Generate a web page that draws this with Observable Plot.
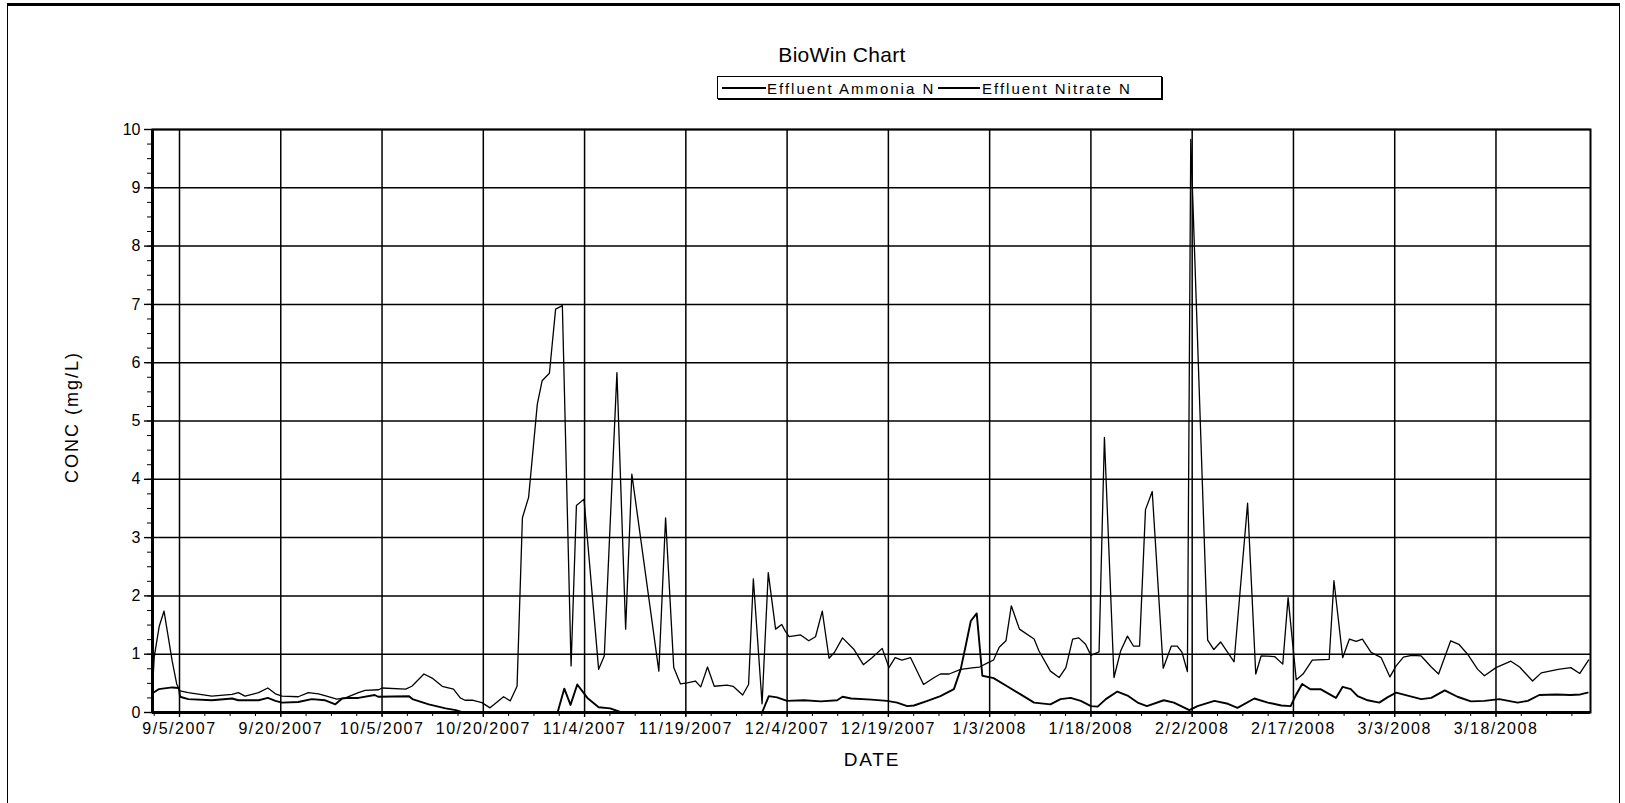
<!DOCTYPE html>
<html><head><meta charset="utf-8">
<script src="https://cdn.jsdelivr.net/npm/d3@7"></script>
<script src="https://cdn.jsdelivr.net/npm/@observablehq/plot@0.6"></script>
<style>
body{margin:0;background:#fff;}
#wrap{position:relative;width:1625px;height:803px;overflow:hidden;font-family:"Liberation Sans",Arial,sans-serif;color:#000;background:#fff;}
#outer{position:absolute;left:7px;top:3px;width:1611px;height:830px;border-top:3px solid #000;border-left:1px solid #000;border-right:1px solid #000;}
#title{position:absolute;left:692px;width:300px;top:44px;text-align:center;font-size:21px;line-height:21px;letter-spacing:0.3px;}
#legend{position:absolute;left:717px;top:76px;width:443px;height:21px;border:1px solid #000;box-shadow:1px 1px 0 #000;font-size:15px;letter-spacing:2px;}
#legend .sw{position:absolute;top:10px;height:0;border-top:2px solid #000;}
#legend .tx{position:absolute;top:4px;line-height:15px;white-space:nowrap;}
#ytitle{position:absolute;left:72px;top:417px;transform:translate(-50%,-50%) rotate(-90deg);font-size:18px;letter-spacing:2px;white-space:nowrap;}
#xtitle{position:absolute;left:872px;top:750px;transform:translateX(-50%);font-size:19px;letter-spacing:1.8px;line-height:19px;}
#chart{position:absolute;left:0;top:0;}
#chart g[aria-label="x-axis tick label"] text{letter-spacing:1.5px;}
</style></head>
<body>
<div id="wrap">
  <div id="outer"></div>
  <div id="chart"></div>
  <div id="title"></div>
  <div id="legend"></div>
  <div id="ytitle"></div>
  <div id="xtitle"></div>
</div>
<script>
const chartTitle = "BioWin Chart";
const seriesNames = ["Effluent Ammonia N", "Effluent Nitrate N"];
const xTitle = "DATE";
const yTitle = "CONC (mg/L)";

const xDomain = ["2007-09-01T00", "2008-04-01T00"];
const yDomain = [0, 10];
const yTicks = [0, 1, 2, 3, 4, 5, 6, 7, 8, 9, 10];
const xTickDates = ["2007-09-05T00","2007-09-20T00","2007-10-05T00","2007-10-20T00","2007-11-04T00","2007-11-19T00","2007-12-04T00","2007-12-19T00","2008-01-03T00","2008-01-18T00","2008-02-02T00","2008-02-17T00","2008-03-03T00","2008-03-18T00"];
const xTickLabels = ["9/5/2007","9/20/2007","10/5/2007","10/20/2007","11/4/2007","11/19/2007","12/4/2007","12/19/2007","1/3/2008","1/18/2008","2/2/2008","2/17/2008","3/3/2008","3/18/2008"];

const ammonia = [
["2007-09-01T00",0.40],["2007-09-01T06",0.95],["2007-09-02T00",1.48],["2007-09-02T17",1.74],["2007-09-03T22",0.88],
["2007-09-04T14",0.49],["2007-09-05T02",0.37],["2007-09-06T07",0.34],["2007-09-09T19",0.28],["2007-09-12T19",0.31],
["2007-09-13T17",0.34],["2007-09-14T17",0.28],["2007-09-16T17",0.34],["2007-09-18T02",0.42],["2007-09-19T05",0.32],
["2007-09-20T05",0.28],["2007-09-22T14",0.27],["2007-09-24T02",0.34],["2007-09-25T14",0.32],["2007-09-26T19",0.28],
["2007-09-28T07",0.23],["2007-09-29T14",0.25],["2007-10-01T12",0.34],["2007-10-02T12",0.38],["2007-10-04T12",0.39],
["2007-10-05T00",0.42],["2007-10-08T12",0.40],["2007-10-09T10",0.45],["2007-10-11T05",0.66],["2007-10-12T10",0.59],
["2007-10-13T22",0.45],["2007-10-15T14",0.40],["2007-10-16T14",0.25],["2007-10-17T07",0.21],["2007-10-18T12",0.21],
["2007-10-19T19",0.17],["2007-10-21T00",0.08],["2007-10-23T00",0.27],["2007-10-24T00",0.20],["2007-10-25T00",0.45],
["2007-10-25T19",3.34],["2007-10-26T17",3.69],["2007-10-28T00",5.29],["2007-10-28T17",5.69],["2007-10-29T19",5.82],
["2007-10-30T17",6.92],["2007-10-31T17",6.98],["2007-11-02T00",0.80],["2007-11-02T19",3.55],["2007-11-03T22",3.66],
["2007-11-06T02",0.74],["2007-11-06T22",0.97],["2007-11-08T19",5.83],["2007-11-10T02",1.43],["2007-11-11T00",4.09],
["2007-11-15T00",0.71],["2007-11-16T00",3.34],["2007-11-17T05",0.77],["2007-11-18T05",0.49],["2007-11-19T05",0.51],
["2007-11-20T10",0.54],["2007-11-21T05",0.44],["2007-11-22T05",0.78],["2007-11-23T05",0.45],["2007-11-25T02",0.47],
["2007-11-26T00",0.45],["2007-11-27T10",0.30],["2007-11-28T07",0.48],["2007-11-29T00",2.29],["2007-11-30T07",0.15],
["2007-12-01T05",2.40],["2007-12-02T07",1.43],["2007-12-03T05",1.51],["2007-12-03T17",1.40],["2007-12-04T07",1.30],
["2007-12-06T00",1.33],["2007-12-07T05",1.23],["2007-12-08T05",1.30],["2007-12-09T05",1.74],["2007-12-10T05",0.93],
["2007-12-11T00",1.03],["2007-12-12T05",1.28],["2007-12-13T22",1.08],["2007-12-15T07",0.82],["2007-12-16T14",0.94],
["2007-12-18T02",1.10],["2007-12-19T02",0.77],["2007-12-20T00",0.94],["2007-12-21T00",0.90],["2007-12-22T07",0.94],
["2007-12-24T05",0.48],["2007-12-25T19",0.60],["2007-12-26T17",0.66],["2007-12-28T00",0.66],["2007-12-29T17",0.74],
["2007-12-31T17",0.77],["2008-01-01T12",0.78],["2008-01-02T17",0.85],["2008-01-03T14",0.90],["2008-01-04T10",1.12],
["2008-01-05T10",1.23],["2008-01-06T05",1.83],["2008-01-07T10",1.43],["2008-01-09T14",1.26],["2008-01-10T07",1.06],
["2008-01-12T00",0.71],["2008-01-13T07",0.60],["2008-01-14T07",0.77],["2008-01-15T07",1.26],["2008-01-16T05",1.28],
["2008-01-17T05",1.17],["2008-01-18T00",0.98],["2008-01-19T05",1.04],["2008-01-20T00",4.72],["2008-01-21T10",0.60],
["2008-01-22T10",1.06],["2008-01-23T10",1.31],["2008-01-24T07",1.14],["2008-01-25T05",1.14],["2008-01-26T02",3.48],
["2008-01-27T02",3.79],["2008-01-28T17",0.76],["2008-01-29T22",1.14],["2008-01-30T19",1.14],["2008-01-31T12",1.03],
["2008-02-01T07",0.70],["2008-02-01T19",9.83],["2008-02-04T07",1.24],["2008-02-05T05",1.08],["2008-02-06T05",1.21],
["2008-02-07T05",1.04],["2008-02-08T05",0.87],["2008-02-10T05",3.59],["2008-02-11T10",0.66],["2008-02-12T05",0.97],
["2008-02-14T05",0.96],["2008-02-15T10",0.83],["2008-02-16T05",1.97],["2008-02-17T10",0.56],["2008-02-18T10",0.66],
["2008-02-19T19",0.90],["2008-02-22T07",0.91],["2008-02-23T00",2.26],["2008-02-24T07",0.94],["2008-02-25T07",1.26],
["2008-02-26T07",1.22],["2008-02-27T05",1.26],["2008-02-28T12",1.03],["2008-03-01T00",0.94],["2008-03-02T07",0.61],
["2008-03-03T05",0.80],["2008-03-04T07",0.95],["2008-03-05T12",0.98],["2008-03-06T22",0.97],["2008-03-08T10",0.78],
["2008-03-09T12",0.66],["2008-03-11T07",1.23],["2008-03-12T12",1.17],["2008-03-13T19",1.00],["2008-03-15T07",0.74],
["2008-03-16T07",0.63],["2008-03-18T00",0.77],["2008-03-20T05",0.88],["2008-03-21T12",0.78],["2008-03-23T10",0.54],
["2008-03-24T17",0.68],["2008-03-27T05",0.74],["2008-03-29T02",0.77],["2008-03-30T10",0.67],["2008-03-31T17",0.90]
];

const nitrate = [
["2007-09-01T00",0.33],["2007-09-01T22",0.40],["2007-09-03T22",0.43],["2007-09-04T22",0.42],["2007-09-05T02",0.27],
["2007-09-06T07",0.23],["2007-09-09T19",0.21],["2007-09-12T19",0.24],["2007-09-13T17",0.21],["2007-09-16T17",0.21],
["2007-09-18T02",0.25],["2007-09-19T05",0.20],["2007-09-20T05",0.17],["2007-09-22T14",0.18],["2007-09-24T14",0.23],
["2007-09-26T14",0.21],["2007-09-28T02",0.14],["2007-09-29T02",0.24],["2007-09-30T02",0.25],["2007-10-01T12",0.25],
["2007-10-03T22",0.30],["2007-10-04T10",0.27],["2007-10-09T00",0.28],["2007-10-09T12",0.23],["2007-10-11T22",0.14],
["2007-10-14T10",0.07],["2007-10-15T22",0.04],["2007-10-17T00",0.00],["2007-10-31T00",0.00],["2007-11-01T00",0.41],
["2007-11-01T22",0.13],["2007-11-02T22",0.48],["2007-11-04T10",0.25],["2007-11-06T02",0.09],["2007-11-07T19",0.07],
["2007-11-09T12",0.00],["2007-11-30T07",0.00],["2007-12-01T07",0.28],["2007-12-02T12",0.26],["2007-12-04T00",0.20],
["2007-12-06T12",0.21],["2007-12-09T00",0.19],["2007-12-11T10",0.21],["2007-12-12T05",0.27],["2007-12-13T12",0.24],
["2007-12-16T12",0.22],["2007-12-18T19",0.20],["2007-12-20T07",0.17],["2007-12-21T19",0.11],["2007-12-22T19",0.12],
["2007-12-24T19",0.20],["2007-12-26T17",0.28],["2007-12-28T17",0.40],["2007-12-29T17",0.74],["2007-12-30T12",1.17],
["2007-12-31T05",1.57],["2008-01-01T02",1.70],["2008-01-01T22",0.63],["2008-01-03T14",0.59],["2008-01-05T14",0.45],
["2008-01-07T14",0.31],["2008-01-09T14",0.17],["2008-01-12T00",0.14],["2008-01-13T12",0.23],["2008-01-15T00",0.25],
["2008-01-16T12",0.20],["2008-01-18T00",0.11],["2008-01-19T00",0.10],["2008-01-20T05",0.23],["2008-01-21T22",0.36],
["2008-01-23T10",0.29],["2008-01-24T22",0.17],["2008-01-26T07",0.11],["2008-01-28T19",0.21],["2008-01-30T07",0.17],
["2008-02-01T14",0.04],["2008-02-02T19",0.11],["2008-02-05T07",0.20],["2008-02-07T07",0.15],["2008-02-08T17",0.08],
["2008-02-11T05",0.24],["2008-02-13T05",0.17],["2008-02-15T05",0.12],["2008-02-16T14",0.11],["2008-02-17T10",0.31],
["2008-02-18T07",0.49],["2008-02-19T12",0.40],["2008-02-21T00",0.40],["2008-02-23T07",0.25],["2008-02-24T07",0.44],
["2008-02-25T12",0.40],["2008-02-26T12",0.28],["2008-02-28T00",0.21],["2008-02-29T17",0.17],["2008-03-01T22",0.26],
["2008-03-03T05",0.34],["2008-03-04T22",0.29],["2008-03-06T22",0.23],["2008-03-08T10",0.25],["2008-03-10T10",0.38],
["2008-03-12T07",0.27],["2008-03-14T07",0.19],["2008-03-16T07",0.20],["2008-03-18T12",0.23],["2008-03-21T05",0.17],
["2008-03-22T17",0.20],["2008-03-24T10",0.30],["2008-03-27T00",0.31],["2008-03-29T00",0.30],["2008-03-30T12",0.31],
["2008-03-31T14",0.34]
];

const parse = s => new Date(s + ":00Z");
const toRows = (arr, name) => arr.map(([d, v]) => ({date: parse(d), value: v, series: name}));
const ammoniaRows = toRows(ammonia, seriesNames[0]);
const nitrateRows = toRows(nitrate, seriesNames[1]);

const start = parse(xDomain[0]), end = parse(xDomain[1]);
const majorX = xTickDates.map(parse);
const labelMap = new Map(majorX.map((d, i) => [+d, xTickLabels[i]]));
const DAY = 864e5;
// minor ticks: 4 intervals between major ticks
const minorX = [];
for (let k = -1; k < 60; k++) {
  const t = new Date(+majorX[0] + k * 3.75 * DAY);
  if (t >= start && t <= end) minorX.push(t);
}
const minorY = [];
for (let k = 0; k <= 40; k++) minorY.push(k / 4);

const chart = Plot.plot({
  width: 1625, height: 803,
  marginLeft: 152, marginRight: 35, marginTop: 129, marginBottom: 91,
  x: {type: "utc", domain: [start, end]},
  y: {domain: yDomain},
  style: {fontFamily: '"Liberation Sans", Arial, sans-serif', fontSize: "16px", color: "#000", background: "transparent", overflow: "visible"},
  marks: [
    Plot.ruleY(yTicks, {stroke: "#000", strokeWidth: 1.5}),
    Plot.ruleX(majorX, {stroke: "#000", strokeWidth: 1.5}),
    Plot.axisY({ticks: minorY, tickSize: 5, tickFormat: () => "", label: null, stroke: "#000"}),
    Plot.axisY({ticks: yTicks, tickSize: 8, tickPadding: 4, tickFormat: d => String(d), label: null, stroke: "#000", strokeWidth: 1.4}),
    Plot.axisX({ticks: minorX, tickSize: 4, tickFormat: () => "", label: null, stroke: "#000"}),
    Plot.axisX({ticks: majorX, tickSize: 5, tickPadding: 5, tickFormat: d => labelMap.get(+d), label: null, stroke: "#000", strokeWidth: 1.4}),
    Plot.line(nitrateRows, {x: "date", y: "value", stroke: "#000", strokeWidth: 1.9}),
    Plot.line(ammoniaRows, {x: "date", y: "value", stroke: "#000", strokeWidth: 1.3}),
    Plot.ruleY([0], {stroke: "#000", strokeWidth: 3}),
    Plot.ruleX([start], {stroke: "#000", strokeWidth: 3}),
    Plot.frame({stroke: "#000", strokeWidth: 2})
  ]
});
document.getElementById("chart").appendChild(chart);

document.getElementById("title").textContent = chartTitle;
document.getElementById("ytitle").textContent = yTitle;
document.getElementById("xtitle").textContent = xTitle;
const legend = document.getElementById("legend");
const legendPos = [[4, 44, 49], [220, 42, 264]];
seriesNames.forEach((name, i) => {
  const [sx, sw, tx] = legendPos[i];
  const s = document.createElement("div");
  s.className = "sw"; s.style.left = sx + "px"; s.style.width = sw + "px";
  const t = document.createElement("div");
  t.className = "tx"; t.style.left = tx + "px"; t.textContent = name;
  legend.appendChild(s); legend.appendChild(t);
});
</script>
</body></html>
